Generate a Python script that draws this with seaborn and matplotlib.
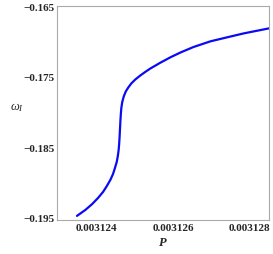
import seaborn as sns
import matplotlib.pyplot as plt
import pandas as pd

# values
p_vals = [0.00312350, 0.00312372, 0.00312390, 0.00312405, 0.00312418, 0.00312428,
          0.00312437, 0.00312444, 0.00312449, 0.003124536, 0.003124565, 0.003124586,
          0.003124599, 0.003124609, 0.003124617, 0.003124625, 0.003124633, 0.003124643,
          0.003124656, 0.003124680, 0.003124719, 0.003124771, 0.003124837, 0.003124915,
          0.003125020, 0.003125150, 0.003125281, 0.003125412, 0.003125673, 0.003125935,
          0.003126196, 0.003126536, 0.003126980, 0.003127425, 0.003127843, 0.003128288,
          0.003128523]
omega_vals = [-0.194717, -0.193868, -0.193019, -0.192170, -0.191321, -0.190472,
              -0.189623, -0.188774, -0.187925, -0.187076, -0.186227, -0.185378,
              -0.184529, -0.183680, -0.182831, -0.181982, -0.181133, -0.180284,
              -0.179435, -0.178586, -0.177807, -0.177100, -0.176534, -0.175968,
              -0.175402, -0.174836, -0.174327, -0.173846, -0.173025, -0.172261,
              -0.171582, -0.170803, -0.169996, -0.169416, -0.168878, -0.168397,
              -0.168142]
x_ticks = [0.003124, 0.003126, 0.003128]
y_ticks = [-0.195, -0.185, -0.175, -0.165]

df = pd.DataFrame({'P': p_vals, 'omega': omega_vals})

sns.set_style('white')
plt.rcParams['font.family'] = ['Liberation Serif', 'DejaVu Serif']
plt.rcParams['mathtext.fontset'] = 'custom'
plt.rcParams['mathtext.it'] = 'Liberation Serif:italic'
plt.rcParams['mathtext.rm'] = 'Liberation Serif'

fig = plt.figure(figsize=(2.73, 2.55), dpi=100)
ax = fig.add_axes([0.2088, 0.1333, 0.7762, 0.8392])
sns.lineplot(data=df, x='P', y='omega', sort=False, color='#0a0af5', lw=1.6,
             solid_joinstyle='round', solid_capstyle='round', ax=ax)

ax.set_xlim(0.00312298, 0.0031285)
ax.set_ylim(-0.1953, -0.165)
ax.set_xticks(x_ticks)
ax.set_xticklabels(['0.003124', '0.003126', '0.003128'], fontweight='bold', fontsize=8)
ax.set_yticks(y_ticks)
ax.set_yticklabels(['\u22120.195', '\u22120.185', '\u22120.175', '\u22120.165'],
                   fontweight='bold', fontsize=8)
ax.tick_params(direction='in', length=3, width=0.6, color='#999999', pad=2)
for s in ax.spines.values():
    s.set_color('#aaaaaa')
    s.set_linewidth(0.8)

ax.set_xlabel('P', fontstyle='italic', fontweight='bold', fontsize=9, labelpad=3)
ax.set_ylabel(r'$\omega_I$', fontsize=9, rotation=0, labelpad=0)
ax.yaxis.set_label_coords(-0.19, 0.5)

fig.savefig('out.png', dpi=100)
